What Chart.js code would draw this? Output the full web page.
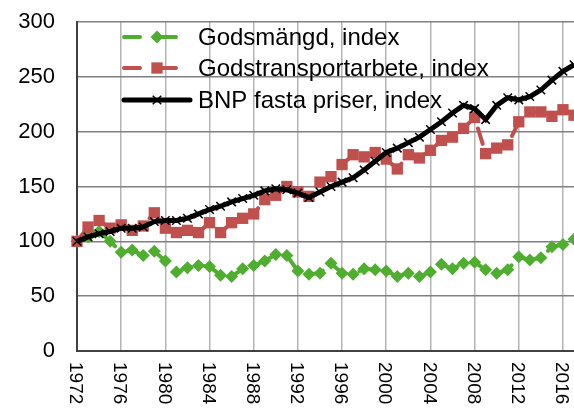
<!DOCTYPE html>
<html>
<head>
<meta charset="utf-8">
<script src="https://cdn.jsdelivr.net/npm/chart.js@4.4.0/dist/chart.umd.min.js"></script>
<style>
  html, body { margin: 0; padding: 0; background: #ffffff; }
  #wrap { width: 574px; height: 412px; }
</style>
</head>
<body>
<div id="wrap"><canvas id="chart" width="574" height="412"></canvas></div>
<script>
// categories (one per year)
const years = [
  '1972', '1973', '1974', '1975', '1976', '1977', '1978', '1979', '1980', '1981',
  '1982', '1983', '1984', '1985', '1986', '1987', '1988', '1989', '1990', '1991',
  '1992', '1993', '1994', '1995', '1996', '1997', '1998', '1999', '2000', '2001',
  '2002', '2003', '2004', '2005', '2006', '2007', '2008', '2009', '2010', '2011',
  '2012', '2013', '2014', '2015', '2016', '2017'
];

// tick labels shown under the x axis and on the y axis
const xTickLabels = ['1972', '1976', '1980', '1984', '1988', '1992', '1996', '2000', '2004', '2008', '2012', '2016'];
const yTickValues = [0, 50, 100, 150, 200, 250, 300];

// series names
const seriesNames = ['Godsmängd, index', 'Godstransportarbete, index', 'BNP fasta priser, index'];

// series values
const godsmangd = [
  100, 104, 109, 100, 90, 92, 87, 91, 82, 72,
  76, 78, 77, 69, 68, 75, 78, 82, 88, 87,
  73, 70, 71, 80, 71, 70, 75, 74, 73, 68,
  71, 68, 72, 79, 75, 80, 81, 74, 71, 74,
  86, 83, 85, 95, 97, 102
];
const godstransportarbete = [
  100, 113, 119, 112, 115, 110, 114, 126, 112, 108,
  110, 108, 117, 108, 117, 121, 125, 138, 142, 150,
  145, 141, 154, 159, 170, 179, 177, 181, 175, 166,
  179, 176, 183, 192, 195, 203, 213, 180, 185, 188,
  209, 218, 218, 214, 220, 215
];
const bnp = [
  100, 104, 107, 109, 112, 112, 113, 118, 119, 119,
  121, 125, 129, 132, 136, 139, 142, 146, 148, 147,
  144, 140, 145, 150, 154, 158, 165, 173, 181, 185,
  190, 195, 202, 209, 217, 224, 221, 211, 224, 231,
  229, 232, 238, 247, 255, 261
];

const fontFamily = '"Liberation Sans", Arial, sans-serif';
Chart.defaults.font.family = fontFamily;
Chart.defaults.color = '#000000';

// rotated year labels (text reads top to bottom), placed with the x scale
const rotatedYearLabels = {
  id: 'rotatedYearLabels',
  afterDraw(chart) {
    const ctx = chart.ctx;
    const xScale = chart.scales.x;
    const size = 19;
    ctx.save();
    ctx.font = size + 'px ' + fontFamily;
    ctx.fillStyle = '#000000';
    ctx.textAlign = 'left';
    ctx.textBaseline = 'alphabetic';
    xTickLabels.forEach(function(label) {
      const x = xScale.getPixelForValue(years.indexOf(label));
      ctx.save();
      ctx.translate(x, xScale.top + 11);
      ctx.rotate(Math.PI / 2);
      ctx.fillText(label, 0, size * 0.716 / 2);
      ctx.restore();
    });
    ctx.restore();
  }
};

// legend drawn inside the plot: line sample + marker + text
const insideLegend = {
  id: 'insideLegend',
  afterDraw(chart) {
    const ctx = chart.ctx;
    const rowsY = [37, 68, 100];
    const x0 = 122, x1 = 192, markerX = 157, textX = 198;
    chart.data.datasets.forEach(function(ds, i) {
      const y = rowsY[i];
      ctx.save();
      ctx.strokeStyle = ds.borderColor;
      ctx.lineWidth = ds.borderWidth;
      ctx.lineCap = 'round';
      ctx.beginPath();
      if (ds.borderDash && ds.borderDash.length) {
        ctx.moveTo(x0 + 2, y); ctx.lineTo(142 - 2, y);
        ctx.moveTo(152 + 2, y); ctx.lineTo(178 - 2, y);
      } else {
        ctx.moveTo(x0 + 2, y); ctx.lineTo(x1 - 2, y);
      }
      ctx.stroke();
      ctx.fillStyle = ds.pointBackgroundColor;
      ctx.strokeStyle = ds.pointBorderColor;
      ctx.lineWidth = ds.pointBorderWidth;
      ctx.lineCap = 'butt';
      Chart.helpers.drawPoint(ctx, {
        pointStyle: ds.pointStyle,
        radius: ds.pointRadius,
        rotation: 0,
        borderWidth: ds.pointBorderWidth
      }, markerX, y);
      ctx.font = '24px ' + fontFamily;
      ctx.fillStyle = '#000000';
      ctx.textAlign = 'left';
      ctx.textBaseline = 'middle';
      ctx.fillText(seriesNames[i], textX, y + 1);
      ctx.restore();
    });
  }
};

const ctx = document.getElementById('chart').getContext('2d');
const chart = new Chart(ctx, {
  type: 'line',
  data: {
    labels: years,
    datasets: [
      {
        label: seriesNames[0],
        data: godsmangd,
        order: 3,
        borderColor: '#4fae2f',
        borderWidth: 4,
        borderDash: [16, 14],
        borderCapStyle: 'round',
        pointStyle: 'rectRot',
        pointRadius: 6.5,
        pointBackgroundColor: '#4fae2f',
        pointBorderColor: '#4fae2f',
        pointBorderWidth: 0,
        tension: 0,
        clip: false
      },
      {
        label: seriesNames[1],
        data: godstransportarbete,
        order: 2,
        borderColor: '#c0504d',
        borderWidth: 4,
        borderDash: [16, 14],
        borderCapStyle: 'round',
        pointStyle: 'rect',
        pointRadius: 8,
        pointBackgroundColor: '#c0504d',
        pointBorderColor: '#c0504d',
        pointBorderWidth: 0,
        tension: 0,
        clip: false
      },
      {
        label: seriesNames[2],
        data: bnp,
        order: 1,
        borderColor: '#000000',
        borderWidth: 5,
        pointStyle: 'crossRot',
        pointRadius: 6,
        pointBackgroundColor: '#000000',
        pointBorderColor: '#000000',
        pointBorderWidth: 1.5,
        tension: 0,
        clip: false
      }
    ]
  },
  options: {
    responsive: false,
    animation: false,
    devicePixelRatio: 1,
    layout: { autoPadding: false, padding: { top: 22, right: 0, bottom: 0, left: 0 } },
    plugins: {
      legend: { display: false },
      tooltip: { enabled: false }
    },
    scales: {
      x: {
        type: 'category',
        offset: false,
        ticks: { display: false, autoSkip: false },
        grid: {
          drawTicks: false,
          lineWidth: 1.5,
          color: function(c) {
            return xTickLabels.indexOf(years[c.index]) !== -1 ? '#b4b4b4' : 'rgba(0,0,0,0)';
          }
        },
        border: { color: '#404040', width: 2 },
        afterFit: function(scale) { scale.height = 61; }
      },
      y: {
        min: 0,
        max: 300,
        afterBuildTicks: function(scale) {
          scale.ticks = yTickValues.map(function(v) { return { value: v }; });
        },
        ticks: { padding: 22, font: { size: 22 }, color: '#000000' },
        grid: { drawTicks: false, lineWidth: 1.5, color: '#808080' },
        border: { color: '#404040', width: 2 },
        afterFit: function(scale) {
          scale.width = 77;
          scale.paddingTop = 0;
          scale.paddingBottom = 0;
        }
      }
    }
  },
  plugins: [rotatedYearLabels, insideLegend]
});
</script>
</body>
</html>
